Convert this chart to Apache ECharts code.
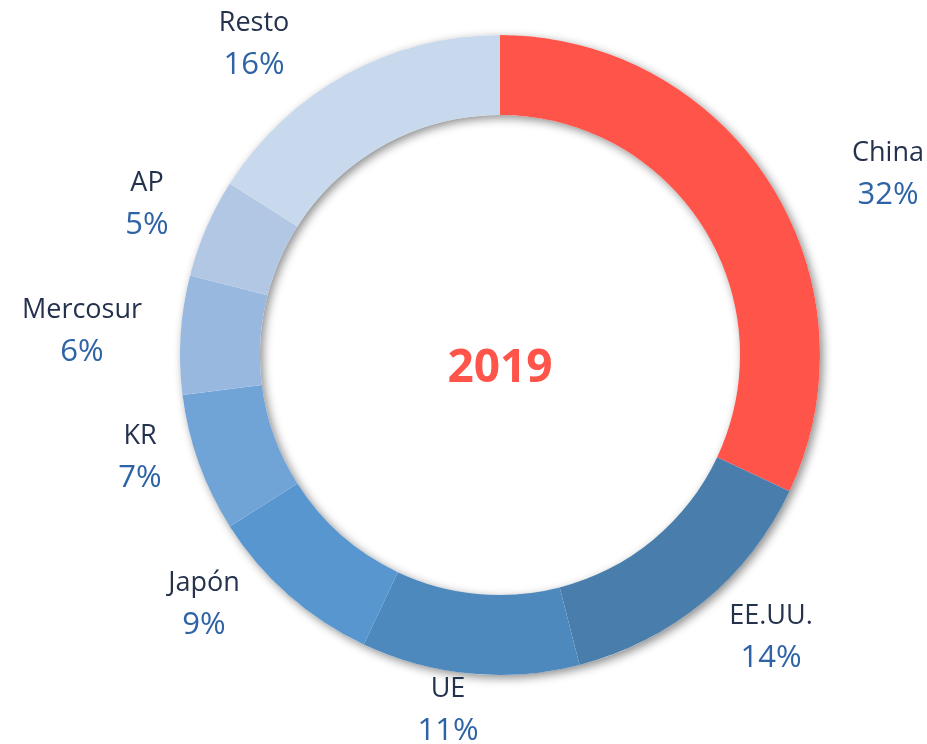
<!DOCTYPE html>
<html>
<head>
<meta charset="utf-8">
<script src="https://cdn.jsdelivr.net/npm/echarts@6/dist/echarts.min.js"></script>
<style>
  html, body { margin: 0; padding: 0; background: #fff; }
  #main { width: 927px; height: 744px; }
</style>
</head>
<body>
<div id="main"></div>
<script>
// datos del gráfico
var regiones = ['China', 'EE.UU.', 'UE', 'Japón', 'KR', 'Mercosur', 'AP', 'Resto'];
var valores = [32, 14, 11, 9, 7, 6, 5, 16];
var colores = ['#FF5449', '#497DAC', '#4E89BE', '#5796CE', '#70A4D7', '#98B8DF', '#B1C7E4', '#C9D9ED'];
var anio = '2019';

// posiciones de las etiquetas (centro del texto)
var etiquetaXY = [
  [888, 174], [771, 637], [448, 710], [204, 604],
  [140, 457], [82, 331], [147, 204], [254, 44]
];

var chart = echarts.init(document.getElementById('main'));

var option = {
  animation: false,
  graphic: [{
    type: 'text',
    x: 500,
    y: 369,
    style: {
      text: anio,
      align: 'center',
      verticalAlign: 'middle',
      fontFamily: 'Open Sans',
      fontSize: 46,
      fontWeight: 'bold',
      fill: '#FF5449'
    }
  }],
  series: [
    {
      // anillo de fondo solo para la sombra
      type: 'pie',
      silent: true,
      radius: [240, 320],
      center: [500, 355],
      label: { show: false },
      labelLine: { show: false },
      itemStyle: {
        color: '#ffffff',
        shadowBlur: 10,
        shadowColor: 'rgba(0,0,0,0.45)',
        shadowOffsetX: 3,
        shadowOffsetY: 3
      },
      data: [{ value: 1, name: '' }]
    },
    {
      type: 'pie',
      radius: [240, 320],
      center: [500, 355],
      startAngle: 90,
      clockwise: true,
      avoidLabelOverlap: false,
      itemStyle: { borderWidth: 0 },
      label: {
        show: true,
        position: 'outside',
        formatter: '{n|{b}}\n{p|{d}%}',
        rich: {
          n: { fontFamily: 'Open Sans', fontSize: 27, color: '#25324D', lineHeight: 42, align: 'center' },
          p: { fontFamily: 'Open Sans', fontSize: 31, color: '#2E63A6', lineHeight: 42, align: 'center' }
        }
      },
      labelLine: { show: false },
      labelLayout: function (params) {
        var p = etiquetaXY[params.dataIndex];
        return { x: p[0], y: p[1], align: 'center', verticalAlign: 'middle' };
      },
      data: regiones.map(function (r, i) {
        return { name: r, value: valores[i], itemStyle: { color: colores[i] } };
      })
    }
  ]
};

chart.setOption(option);
</script>
</body>
</html>
